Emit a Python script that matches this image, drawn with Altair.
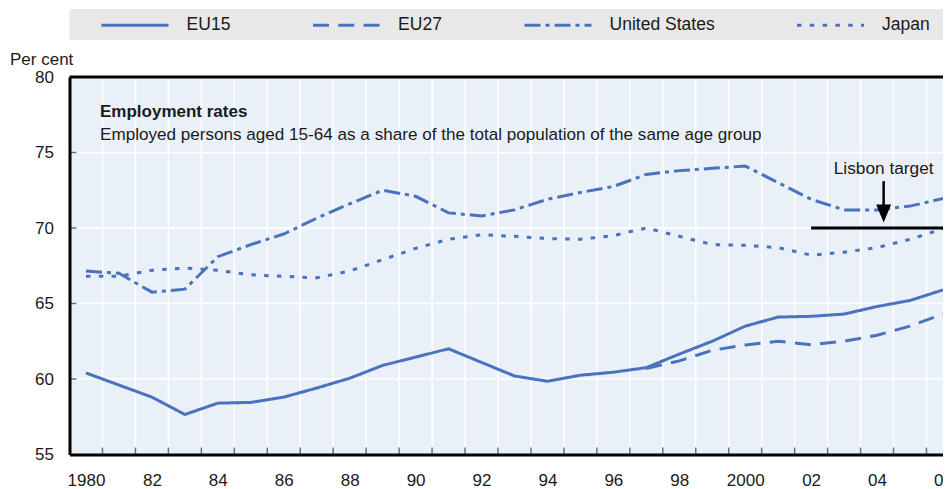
import altair as alt
import pandas as pd

# ---------------- data ----------------
YEARS = list(range(1980, 2007))
EU15 = [60.4, 59.6, 58.8, 57.65, 58.4, 58.45, 58.8, 59.4, 60.05, 60.9, 61.45, 62.0, 61.1,
        60.2, 59.85, 60.25, 60.45, 60.75, 61.65, 62.5, 63.5, 64.1, 64.15, 64.3, 64.8, 65.2, 65.9]
EU27_YEARS = list(range(1997, 2007))
EU27 = [60.7, 61.2, 61.9, 62.25, 62.5, 62.27, 62.5, 62.9, 63.5, 64.3]
US = [67.15, 67.0, 65.75, 65.95, 68.1, 68.9, 69.6, 70.65, 71.6, 72.5, 72.1, 71.0, 70.8,
      71.2, 71.9, 72.35, 72.75, 73.55, 73.8, 73.95, 74.1, 73.0, 71.9, 71.2, 71.2, 71.45, 71.95]
JAPAN = [66.8, 66.8, 67.2, 67.35, 67.2, 66.9, 66.8, 66.7, 67.15, 67.9, 68.65, 69.25, 69.55,
         69.45, 69.3, 69.25, 69.5, 70.0, 69.45, 68.9, 68.85, 68.7, 68.2, 68.4, 68.7, 69.25, 69.95]

SERIES = ["EU15", "EU27", "United States", "Japan"]
Y_TICKS = [55, 60, 65, 70, 75, 80]
Y_INNER = [60, 65, 70, 75]
X_LABEL_YEARS = [1980, 1982, 1984, 1986, 1988, 1990, 1992, 1994, 1996, 1998, 2000, 2002, 2004, 2006]
X_LABELS = ["1980", "82", "84", "86", "88", "90", "92", "94", "96", "98", "2000", "02", "04", "06"]
LISBON_TARGET = 70
LISBON_FROM = 2002
LISBON_LABEL = "Lisbon target"
TITLE = "Employment rates"
SUBTITLE = "Employed persons aged 15-64 as a share of the total population of the same age group"
Y_UNIT = "Per cent"

# ---------------- styling ----------------
FONT = "Liberation Sans, Arial, sans-serif"
FS = 17
BLUE = "#4a72be"
TXT = "#1a1a1a"
DASHES = [[1, 0], [16, 9.3], [16, 5, 4, 5], [4.5, 8.3]]
W, H = 873.5, 377.5
XMIN = 1979.5
XMAX = 2006.001

rows = []
for name, yrs, vals in [("EU15", YEARS, EU15), ("EU27", EU27_YEARS, EU27),
                        ("United States", YEARS, US), ("Japan", YEARS, JAPAN)]:
    for yr, v in zip(yrs, vals):
        rows.append({"year": yr, "value": v, "series": name})
df = pd.DataFrame(rows)

bounds = pd.DataFrame({"b": [y + 0.5 for y in YEARS[:-1]]})
yinner = pd.DataFrame({"v": Y_INNER})

xscale = alt.Scale(domain=[XMIN, XMAX], nice=False, zero=False)
yscale = alt.Scale(domain=[Y_TICKS[0], Y_TICKS[-1]], nice=False, zero=False)

label_expr = "[{}][indexof([{}], datum.value)]".format(
    ",".join("'%s'" % s for s in X_LABELS), ",".join(str(y) for y in X_LABEL_YEARS))

xaxis = alt.Axis(values=X_LABEL_YEARS, labelExpr=label_expr, title=None, grid=False,
                 ticks=False, tickSize=0, domainColor="black", domainWidth=3,
                 labelFont=FONT, labelFontSize=FS, labelColor=TXT, labelPadding=17.5,
                 labelFlush=False, labelOverlap=False, labelBound=False, zindex=1)
yaxis = alt.Axis(values=Y_TICKS, title=None, grid=False, ticks=False, tickSize=0,
                 domainColor="black", domainWidth=3, labelFont=FONT, labelFontSize=FS,
                 labelColor=TXT, labelPadding=16, zindex=1)


def X(field=None, datum=None):
    if field is not None:
        return alt.X(field, scale=xscale, axis=xaxis)
    return alt.X(datum=datum, scale=xscale, axis=xaxis)


def Y(field=None, datum=None):
    if field is not None:
        return alt.Y(field, scale=yscale, axis=yaxis)
    return alt.Y(datum=datum, scale=yscale, axis=yaxis)


one = pd.DataFrame({"k": [0]})

vgrid = alt.Chart(bounds).mark_rule(color="white", strokeWidth=1.5).encode(x=X("b:Q"))
hgrid = alt.Chart(yinner).mark_rule(color="white", strokeWidth=1.5).encode(y=Y("v:Q"))

legend_bg = alt.Chart(one).mark_rect(color="#e8e8e8", clip=False).encode(
    x=X(datum=XMIN), x2=alt.datum(XMAX + 1), y=alt.value(-68), y2=alt.value(-37))

xticks = alt.Chart(bounds).mark_tick(orient="vertical", size=7, thickness=1.5,
                                     color="#333", yOffset=-3.5).encode(
    x=X("b:Q"), y=Y(datum=Y_TICKS[0]))
yticks = alt.Chart(yinner).mark_tick(orient="horizontal", size=7, thickness=1.5,
                                     color="#333", xOffset=3.5).encode(
    y=Y("v:Q"), x=X(datum=XMIN))

lines = alt.Chart(df).mark_line(color=BLUE, strokeWidth=3, clip=True).encode(
    x=X("year:Q"),
    y=Y("value:Q"),
    strokeDash=alt.StrokeDash(
        "series:N",
        scale=alt.Scale(domain=SERIES, range=DASHES),
        sort=SERIES,
        legend=alt.Legend(orient="none", legendX=30.5, legendY=-87, direction="horizontal",
                          columns=4, title=None, symbolType="stroke",
                          symbolSize=4489, symbolStrokeWidth=3, symbolStrokeColor=BLUE,
                          labelFont=FONT, labelFontSize=17.5, labelColor=TXT,
                          labelOffset=16.6, columnPadding=75.5, padding=0)),
)

lisbon_line = alt.Chart(one).mark_rule(color="black", strokeWidth=3, clip=True).encode(
    x=X(datum=LISBON_FROM), x2=alt.datum(2008), y=Y(datum=LISBON_TARGET))
arrow_shaft = alt.Chart(one).mark_rule(color="black", strokeWidth=2.5).encode(
    x=X(datum=2004.2), y=Y(datum=73.1), y2=alt.datum(71.5))
arrow_head = alt.Chart(one).mark_point(shape="M-0.83,-1L0.83,-1L0,1Z", size=324, filled=True,
                                       color="black", opacity=1).encode(
    x=X(datum=2004.2), y=Y(datum=70.96))
lisbon_txt = alt.Chart(pd.DataFrame({"t": [LISBON_LABEL]})).mark_text(
    font=FONT, fontSize=17.3, align="center", baseline="alphabetic", color=TXT).encode(
    x=X(datum=2004.2), y=Y(datum=73.6), text="t:N")

title_txt = alt.Chart(pd.DataFrame({"t": [TITLE]})).mark_text(
    font=FONT, fontSize=FS, fontWeight="bold", align="left", baseline="alphabetic",
    color=TXT).encode(x=alt.value(30.5), y=alt.value(40.3), text="t:N")
sub_txt = alt.Chart(pd.DataFrame({"t": [SUBTITLE]})).mark_text(
    font=FONT, fontSize=17.1, align="left", baseline="alphabetic", color=TXT).encode(
    x=alt.value(30.5), y=alt.value(63), text="t:N")
unit_txt = alt.Chart(pd.DataFrame({"t": [Y_UNIT]})).mark_text(
    font=FONT, fontSize=FS, align="left", baseline="alphabetic", color=TXT).encode(
    x=alt.value(-59.5), y=alt.value(-12.5), text="t:N")

top_rule = alt.Chart(one).mark_rule(color="black", strokeWidth=3).encode(
    y=Y(datum=Y_TICKS[-1]))

chart = alt.layer(
    vgrid, hgrid, legend_bg, xticks, yticks, lines, lisbon_line, arrow_shaft,
    arrow_head, lisbon_txt, title_txt, sub_txt, unit_txt, top_rule
).properties(
    width=W, height=H,
    padding={"left": 61.5, "top": 69, "right": 0, "bottom": 34},
    autosize=alt.AutoSizeParams(type="none"),
).configure_view(fill="#eaf0f8", stroke=None)

chart.save("out.html", embed_options={"renderer": "svg", "actions": False})
